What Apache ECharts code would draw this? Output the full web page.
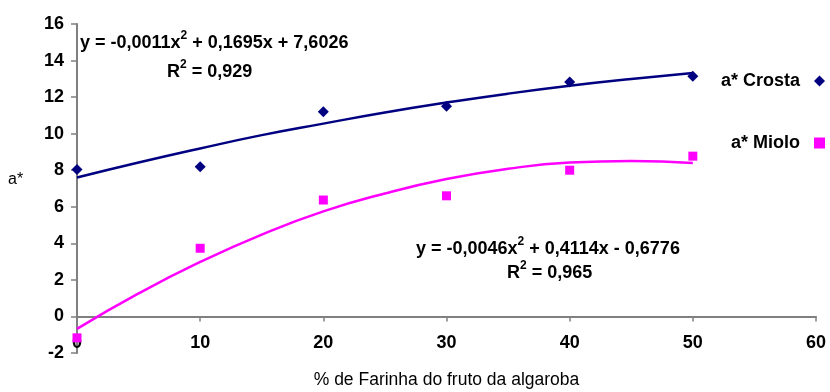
<!DOCTYPE html>
<html>
<head>
<meta charset="utf-8">
<script src="https://cdn.jsdelivr.net/npm/echarts@6/dist/echarts.min.js"></script>
<style>
  html, body { margin: 0; padding: 0; background: #fff; }
  #chart { width: 830px; height: 392px; }
</style>
</head>
<body>
<div id="chart"></div>
<script>
// pontos medidos
const xValues = [0, 10, 20, 30, 40, 50];
const crostaValues = [8.04, 8.19, 11.2, 11.5, 12.83, 13.14];
const mioloValues = [-1.17, 3.73, 6.37, 6.6, 8.0, 8.77];

// linhas de tendência
const trendX = [0, 5, 10, 15, 20, 25, 30, 35, 40, 45, 50];
const crostaTrend = [7.6, 8.42, 9.19, 9.92, 10.55, 11.16, 11.7, 12.19, 12.62, 12.99, 13.32];
const mioloTrend = [-0.68, 1.26, 2.98, 4.48, 5.75, 6.73, 7.52, 8.08, 8.42, 8.51, 8.39];

const seriesNames = ['a* Crosta', 'a* Miolo'];
const eqCrosta = ['y = -0,0011x', '2', ' + 0,1695x + 7,6026', 'R', '2', ' = 0,929'];
const eqMiolo = ['y = -0,0046x', '2', ' + 0,4114x - 0,6776', 'R', '2', ' = 0,965'];

const yMin = -2, yMax = 16;
const gridTop = 24, gridBottom = 39, chartH = 392;

const chart = echarts.init(document.getElementById('chart'));

const pairs = (xs, ys) => xs.map((x, i) => [x, ys[i]]);

const bold = { fontFamily: 'Liberation Sans', fontWeight: 'bold', fontSize: 18, color: '#000' };
const rich = {
  n: { fontFamily: 'Liberation Sans', fontWeight: 'bold', fontSize: 18, lineHeight: 26, fill: '#000', color: '#000' },
  s: { fontFamily: 'Liberation Sans', fontWeight: 'bold', fontSize: 12, lineHeight: 13, verticalAlign: 'top', fill: '#000', color: '#000' }
};
const eqText = (e) => '{n|' + e[0] + '}{s|' + e[1] + '}{n|' + e[2] + '}';
const r2Text = (e) => '{n|' + e[3] + '}{s|' + e[4] + '}{n|' + e[5] + '}';

const axisGrey = '#808080';
// eixo x passa pelo zero do eixo y
const zeroOffset = -(chartH - gridTop - gridBottom) * (0 - yMin) / (yMax - yMin);

const option = {
  animation: false,
  backgroundColor: '#fff',
  grid: { left: 77, right: 14, top: gridTop, bottom: gridBottom, outerBoundsMode: 'none' },
  legend: {
    data: seriesNames,
    orient: 'vertical',
    align: 'right',
    right: 0,
    top: 67,
    itemGap: 44,
    itemWidth: 11,
    itemHeight: 11,
    textStyle: Object.assign({}, bold, { padding: [0, 9, 0, 0] })
  },
  xAxis: {
    type: 'value',
    min: 0,
    max: 60,
    interval: 10,
    position: 'bottom',
    offset: zeroOffset,
    name: '% de Farinha do fruto da algaroba',
    nameLocation: 'middle',
    nameGap: 55,
    nameTextStyle: { fontFamily: 'Liberation Sans', fontSize: 17.5, color: '#000' },
    axisLine: { show: true, onZero: false, lineStyle: { color: axisGrey, width: 2 } },
    axisTick: { show: true, length: 5, lineStyle: { color: axisGrey, width: 1.5 } },
    splitLine: { show: false },
    axisLabel: Object.assign({ margin: 18 }, bold)
  },
  yAxis: {
    type: 'value',
    min: yMin,
    max: yMax,
    interval: 2,
    axisLine: { show: true, lineStyle: { color: axisGrey, width: 2 } },
    axisTick: { show: true, length: 6, lineStyle: { color: axisGrey, width: 1.5 } },
    splitLine: { show: false },
    axisLabel: Object.assign({ margin: 13 }, bold)
  },
  graphic: [
    { type: 'text', left: 8, top: 172, style: { text: 'a*', font: '16px "Liberation Sans"', fill: '#000' } },
    { type: 'text', left: 80, top: 30, style: { text: eqText(eqCrosta), rich: rich } },
    { type: 'text', left: 167, top: 59, style: { text: r2Text(eqCrosta), rich: rich } },
    { type: 'text', left: 416, top: 236, style: { text: eqText(eqMiolo), rich: rich } },
    { type: 'text', left: 507, top: 260, style: { text: r2Text(eqMiolo), rich: rich } }
  ],
  series: [{
    name: 'trend crosta',
    type: 'line',
    smooth: true,
    showSymbol: false,
    lineStyle: { color: '#000080', width: 2.5 },
    data: pairs(trendX, crostaTrend),
    z: 1
  }, {
    name: 'trend miolo',
    type: 'line',
    smooth: true,
    showSymbol: false,
    lineStyle: { color: '#ff00ff', width: 2.5 },
    data: pairs(trendX, mioloTrend),
    z: 1
  }, {
    name: seriesNames[0],
    type: 'scatter',
    symbol: 'diamond',
    symbolSize: 11,
    itemStyle: { color: '#000080', opacity: 1 },
    data: pairs(xValues, crostaValues),
    z: 3
  }, {
    name: seriesNames[1],
    type: 'scatter',
    symbol: 'rect',
    symbolSize: 9,
    itemStyle: { color: '#ff00ff', opacity: 1 },
    data: pairs(xValues, mioloValues),
    z: 3
  }]
};

chart.setOption(option);
</script>
</body>
</html>
